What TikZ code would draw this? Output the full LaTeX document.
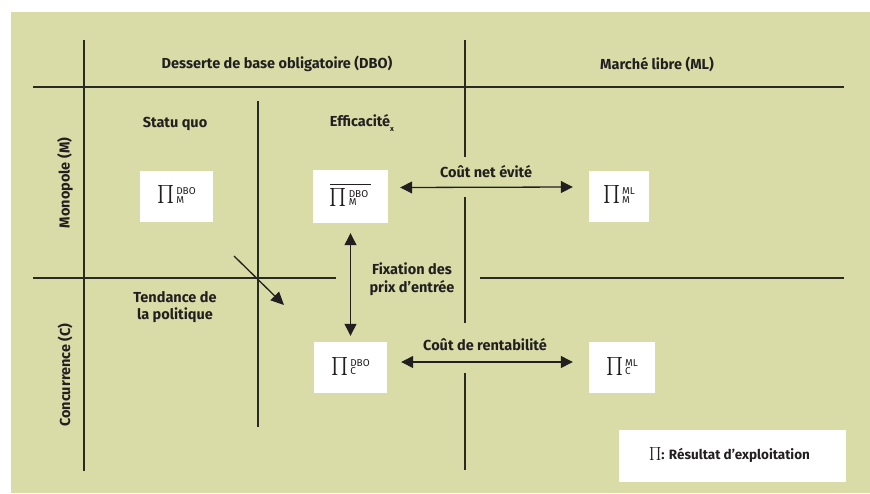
\documentclass[tikz,border=0pt]{standalone}
\usepackage{fontspec}
\usepackage{graphicx}
\setmainfont{Fira Sans}
\usetikzlibrary{arrows.meta,calc}
\definecolor{panel}{HTML}{D9DCA7}
\definecolor{ink}{HTML}{231F20}
\definecolor{rulecol}{HTML}{2A2A24}

% product sign with stacked super/subscripts
\newcommand\prodsym[1][1.8]{\scalebox{#1}{$\prod$}}
\newcommand\profit[2]{\prodsym\kern2pt\raisebox{-4pt}{\fontsize{10}{10}\selectfont\mdseries\begin{tabular}[b]{@{}l@{}}#1\\[-1.5pt]#2\end{tabular}}}
\newcommand\profitbar[2]{\vbox{\hrule height 0.9pt\kern3pt\hbox{\profit{#1}{#2}\kern3pt}}}

\tikzset{
  gridline/.style={draw=rulecol, line width=1.2pt},
  lbl/.style={text=ink, font=\bfseries\fontsize{14.5}{17.5}\selectfont, align=center, inner sep=0pt},
  sidelbl/.style={lbl, rotate=90},
  pbox/.style={fill=white, draw=none, inner sep=0pt, text=ink},
  link/.style={draw=ink, line width=1.3pt, {Triangle[length=12pt,width=12pt]}-{Triangle[length=12pt,width=12pt]}},
  onelink/.style={draw=ink, line width=1.3pt, -{Triangle[length=13pt,width=12pt]}},
}

\begin{document}
\begin{tikzpicture}[x=1pt,y=-1pt]
\useasboundingbox (0,0) rectangle (870,493);
\fill[panel] (11,12) rectangle (870,493);

% table rules
\draw[gridline] (33,87) -- (844,87);
\draw[gridline] (33,278) -- (336,278);
\draw[gridline] (480,278) -- (844,278);
\draw[gridline] (84,40) -- (84,471);
\draw[gridline] (258,101) -- (258,427);
\draw[gridline] (465,40) -- (465,157);
\draw[gridline] (465,197) -- (465,323);
\draw[gridline] (465,373) -- (465,470);

% headings
\node[lbl] (hdbo) at (277,64) {Desserte de base obligatoire (DBO)};
\node[lbl] (hml) at (657,64) {Marché libre (ML)};
\node[sidelbl] (hmono) at (65,183) {Monopole (M)};
\node[sidelbl] (hconc) at (65,375) {Concurrence (C)};
\node[lbl] (hsq) at (175,124) {Statu quo};
\node[lbl] (heff) at (362,123) {Efficacité\raisebox{-5pt}{\fontsize{7.5}{7.5}\selectfont x}};

% profit boxes
\node[pbox, minimum width=73pt, minimum height=51pt] (sq) at (176.5,196) {\profit{DBO}{M}};
\node[pbox, minimum width=75pt, minimum height=53pt] (effm) at (350.5,196.5) {\profitbar{DBO}{M}};
\node[pbox, minimum width=73pt, minimum height=51pt] (dboc) at (350.5,367.5) {\profit{DBO}{C}};
\node[pbox, minimum width=60pt, minimum height=51pt] (mlm) at (619,196) {\profit{ML}{M}};
\node[pbox, minimum width=66pt, minimum height=51pt] (mlc) at (622,367.5) {\profit{ML}{C}};

% connector labels
\node[lbl] (lnet) at (486,172) {Coût net évité};
\node[lbl] (lrent) at (485,345) {Coût de rentabilité};
\node[lbl] (lfix) at (412,279) {Fixation des\\prix d’entrée};
\node[lbl] (lpol) at (175,307) {Tendance de\\la politique};

% connectors
\draw[link] ([xshift=12pt,yshift=9pt]effm.east) -- ([xshift=-16pt,yshift=9pt]mlm.west);
\draw[link] ([xshift=14pt,yshift=5.5pt]dboc.east) -- ([xshift=-16pt,yshift=5.5pt]mlc.west);
\draw[link] ([yshift=-10pt]effm.south) -- ([yshift=6pt]dboc.north);
\coordinate (polstart) at (234,256);
\coordinate (polend) at (284,305);
\draw[onelink] (polstart) -- (polend);

% legend
\node[pbox, minimum width=227pt, minimum height=52pt] (legend) at (732.5,456) {};
\node[lbl, anchor=west, font=\bfseries\fontsize{13.5}{16}\selectfont] (legtext) at (649,455) {\prodsym[1.3]: Résultat d’exploitation};
\end{tikzpicture}
\end{document}
